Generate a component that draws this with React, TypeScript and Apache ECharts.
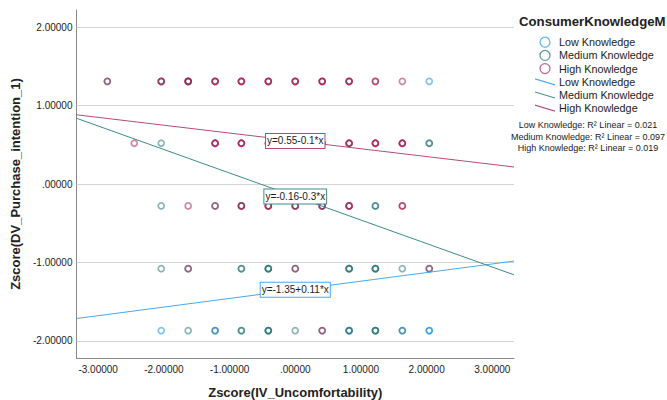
import React, { useEffect, useRef } from 'react';
import * as echarts from 'echarts';

const xTicks = [-3, -2, -1, 0, 1, 2, 3];
const yTicks = [-2, -1, 0, 1, 2];
const xRange = [-3.33, 3.33];
const yRange = [-2.22, 2.22];
const groups = ['Low Knowledge', 'Medium Knowledge', 'High Knowledge'];
// [x, y, number of overlapping cases]
const lowPoints = [
  [2.04, 1.31, 1],
  [-2.04, -1.87, 1], [-1.22, -1.87, 1], [0.82, -1.87, 1], [1.63, -1.87, 1], [2.04, -1.87, 2],
];
const mediumPoints = [
  [-2.86, 1.31, 1], [-2.04, 1.31, 1], [-1.63, 1.31, 1],
  [-2.04, 0.52, 1], [2.04, 0.52, 2],
  [-2.04, -0.28, 1], [-1.22, -0.28, 1], [-0.82, -0.28, 1], [0, -0.28, 1], [0.41, -0.28, 1], [1.22, -0.28, 2],
  [-2.04, -1.08, 1], [-1.63, -1.08, 1], [-0.82, -1.08, 2], [-0.41, -1.08, 3], [0, -1.08, 1],
  [0.82, -1.08, 3], [1.22, -1.08, 3], [1.63, -1.08, 1], [2.04, -1.08, 1],
  [-1.63, -1.87, 1], [-1.22, -1.87, 1], [-0.82, -1.87, 2], [-0.41, -1.87, 3], [0, -1.87, 1],
  [0.41, -1.87, 1], [0.82, -1.87, 2], [1.22, -1.87, 3], [1.63, -1.87, 1],
];
const highPoints = [
  [-2.86, 1.31, 1], [-2.04, 1.31, 2], [-1.63, 1.31, 3], [-1.22, 1.31, 3], [-0.82, 1.31, 3], [-0.41, 1.31, 3],
  [0, 1.31, 3], [0.41, 1.31, 3], [0.82, 1.31, 3], [1.22, 1.31, 2], [1.63, 1.31, 1],
  [-2.45, 0.52, 1], [-1.22, 0.52, 3], [-0.82, 0.52, 3], [-0.41, 0.52, 2], [0, 0.52, 2], [0.41, 0.52, 2],
  [0.82, 0.52, 3], [1.22, 0.52, 3], [1.63, 0.52, 3],
  [-1.63, -0.28, 1], [-1.22, -0.28, 1], [-0.82, -0.28, 2], [-0.41, -0.28, 3], [0, -0.28, 2], [0.41, -0.28, 2],
  [0.82, -0.28, 3], [1.63, -0.28, 2],
  [-1.63, -1.08, 1], [0, -1.08, 1], [2.04, -1.08, 1],
  [0.41, -1.87, 1],
];
const intercepts = [-1.35, -0.16, 0.55];
const slopes = [0.11, -0.3, -0.1];
const fitLabels = ['y=-1.35+0.11*x', 'y=-0.16-0.3*x', 'y=0.55-0.1*x'];
const r2Labels = [
  'Low Knowledge: R² Linear = 0.021',
  'Medium Knowledge: R² Linear = 0.097',
  'High Knowledge: R² Linear = 0.019',
];
const legendTitle = 'ConsumerKnowledgeM';
const xName = 'Zscore(IV_Uncomfortability)';
const yName = 'Zscore(DV_Purchase_intention_1)';

const FONT = '"Liberation Sans", Arial, sans-serif';
const pointColors = ['rgba(0,130,225,0.62)', 'rgba(20,105,110,0.62)', 'rgba(155,15,75,0.62)'];
const lineColors = ['#48A8EE', '#3C8C88', '#B9497A'];
const legendColors = ['#3FA6EC', '#3A8782', '#B2477A'];
const LINE_SUFFIX = ' Line';

const fmt = (v: number) => (v === 0 ? '.00000' : v.toFixed(5));
const expand = (pts: number[][]) =>
  pts.flatMap(([x, y, n]) => Array.from({ length: n }, () => [x, y]));

export default function App() {
  const ref = useRef<HTMLDivElement>(null);
  useEffect(() => {
    if (!ref.current) return;
    const chart = echarts.init(ref.current, undefined, { renderer: 'svg' });
    const pointSets = [lowPoints, mediumPoints, highPoints];

    const scatterSeries = groups.map((g, i) => ({
      name: g,
      type: 'scatter',
      symbol: 'circle',
      symbolSize: 6,
      itemStyle: { color: 'rgba(0,0,0,0)', borderColor: pointColors[i], borderWidth: 1.7 },
      data: expand(pointSets[i]),
      z: 2,
    }));

    const lineSeries = groups.map((g, i) => ({
      name: g + LINE_SUFFIX,
      type: 'line',
      symbol: 'none',
      lineStyle: { color: lineColors[i], width: 1 },
      itemStyle: { color: lineColors[i] },
      data: [
        [xRange[0], intercepts[i] + slopes[i] * xRange[0]],
        [xRange[1], intercepts[i] + slopes[i] * xRange[1]],
      ],
      z: 3,
      markPoint: {
        symbol: 'rect',
        symbolSize: 0,
        silent: true,
        data: [{ coord: [0, intercepts[i]], value: fitLabels[i] }],
        label: {
          show: true,
          position: 'inside',
          formatter: fitLabels[i],
          fontFamily: FONT,
          fontSize: 10,
          color: '#222',
          backgroundColor: '#fff',
          borderColor: lineColors[i],
          borderWidth: 1,
          padding: [2, 1, 2, 1],
        },
      },
    }));

    const gridSeries = {
      name: 'grid',
      type: 'line',
      data: [],
      markLine: {
        silent: true,
        z: 1,
        symbol: ['none', 'none'],
        label: { show: false },
        lineStyle: { color: '#d4d4d4', width: 1, type: 'solid' },
        data: yTicks.map((v) => ({ yAxis: v })),
      },
    };

    const legendData = [
      ...groups.map((g, i) => ({
        name: g,
        icon: 'circle',
        itemStyle: { color: 'rgba(0,0,0,0)', borderColor: legendColors[i], borderWidth: 1.3 },
      })),
      ...groups.map((g, i) => ({
        name: g + LINE_SUFFIX,
        icon: 'path://M0,0L20,6L20,7.2L0,1.2Z',
        itemStyle: { color: lineColors[i], borderWidth: 0 },
      })),
    ];

    chart.setOption({
      animation: false,
      backgroundColor: '#fff',
      textStyle: { fontFamily: FONT },
      title: {
        text: legendTitle,
        left: 519,
        top: 15,
        padding: 0,
        textStyle: { fontFamily: FONT, fontSize: 13.2, fontWeight: 'bold', color: '#222' },
      },
      legend: {
        orient: 'vertical',
        left: 535,
        top: 36,
        itemWidth: 20,
        itemHeight: 10,
        itemGap: 0.8,
        padding: 0,
        selectedMode: false,
        data: legendData,
        formatter: (name: string) => name.replace(LINE_SUFFIX, ''),
        textStyle: {
          fontFamily: FONT,
          fontSize: 10.8,
          lineHeight: 12.4,
          color: '#222',
          padding: [0, 0, 0, -1],
        },
      },
      graphic: r2Labels.map((t, i) => ({
        type: 'text',
        x: 588,
        y: 125 + i * 11.5,
        style: {
          text: t,
          textAlign: 'center',
          textVerticalAlign: 'middle',
          fontFamily: FONT,
          fontSize: 9,
          fill: '#222',
        },
      })),
      grid: { left: 76.5, right: 153, top: 10, bottom: 42, outerBoundsMode: 'none', containLabel: false },
      xAxis: {
        type: 'value',
        min: xRange[0],
        max: xRange[1],
        name: xName,
        nameLocation: 'middle',
        nameGap: 28,
        nameTextStyle: { fontFamily: FONT, fontSize: 13, fontWeight: 'bold', color: '#222' },
        axisLine: { show: true, onZero: false, lineStyle: { color: '#888', width: 1 } },
        axisTick: { show: false, customValues: xTicks },
        splitLine: { show: false },
        axisLabel: {
          customValues: xTicks,
          formatter: fmt,
          fontFamily: FONT,
          fontSize: 10,
          color: '#222',
          margin: 6,
        },
      },
      yAxis: {
        type: 'value',
        min: yRange[0],
        max: yRange[1],
        name: yName,
        nameLocation: 'middle',
        nameGap: 48,
        nameTextStyle: { fontFamily: FONT, fontSize: 13, fontWeight: 'bold', color: '#222' },
        axisLine: { show: true, onZero: false, lineStyle: { color: '#888', width: 1 } },
        axisTick: { show: false, customValues: yTicks },
        splitLine: { show: false },
        axisLabel: {
          customValues: yTicks,
          formatter: fmt,
          fontFamily: FONT,
          fontSize: 10,
          color: '#222',
          margin: 4,
        },
      },
      series: [gridSeries, ...scatterSeries, ...lineSeries],
    });
    return () => chart.dispose();
  }, []);
  return (
    <div
      ref={ref}
      style={{ position: 'fixed', left: 0, top: 0, width: 667, height: 400 }}
    />
  );
}
